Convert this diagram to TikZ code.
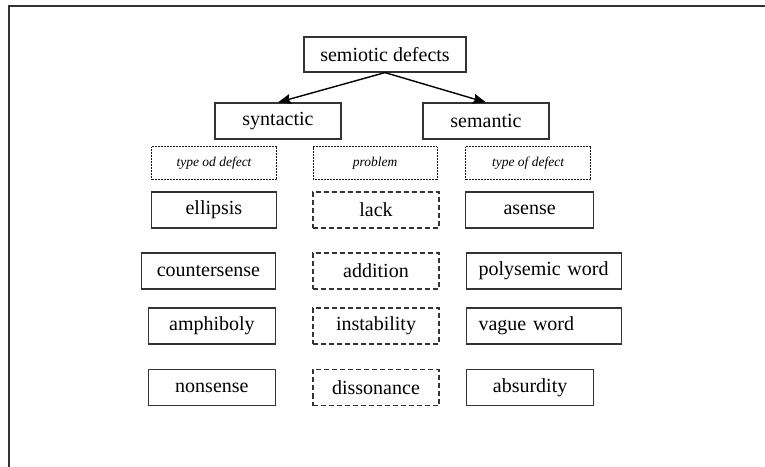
\documentclass[tikz,border=0pt]{standalone}
\usepackage{fontspec}
\setmainfont{Liberation Serif}
\newfontfamily\timesfont{Liberation Serif}
\usetikzlibrary{arrows.meta}
\tikzstyle{plain box}=[
        draw = black!80,
        line width = 1.2pt,
        minimum width = 126bp,
        minimum height = 36bp,
        inner sep = 0pt,
        font = \timesfont\fontsize{20bp}{24bp}\selectfont
    ]
\tikzstyle{dashed box}=[
    plain box,
    dash pattern = on 5bp off 3bp
]
\tikzstyle{dotted box}=[
    plain box,
    draw = black!90,
    line width = 1pt,
    minimum height = 33bp,
    dash pattern = on 1bp off 0.5bp,
    font = \timesfont\fontsize{13.5bp}{16bp}\selectfont\itshape
]
\tikzstyle{wide box}=[
    plain box,
    text width = 131bp,
    inner xsep = 12bp,
    align = left
]

\begin{document}
\begin{tikzpicture}[x=1bp, y=-1bp, thick, link/.style = {line width=1.4pt, -{Stealth[length=13bp, width=10bp, inset=2bp]}}]
        \useasboundingbox (0,0) rectangle (765,467);
        % frame
        \draw[line width=1.6pt, black!80] (9,467) -- (9,6) -- (765,6);

        % tree
        \node[plain box, minimum width=162bp, minimum height=35bp] (top) at (385,54.5) {semiotic defects};
        \node[plain box] (syn) at (278,121) {syntactic};
        \node[plain box] (sem) at (486,121) {semantic};

        \draw[link] (top.south) -- (syn.north);
        \draw[link] (top.south) -- (sem.north);

        % headings
        \node[dotted box, minimum width=125bp, anchor=east] (h1) at (277,163.5) {type od defect};
        \node[dotted box, minimum width=124bp] (h2) at (375,163.5) {problem};
        \node[dotted box, minimum width=125bp, anchor=west] (h3) at (465,163.5) {type of defect};

        % syntactic column
        \node[plain box, minimum width=125bp, anchor=east] (ellipsis) at (277,210) {ellipsis};
        \node[plain box, minimum width=134bp, anchor=east] (counter) at (276,271) {countersense};
        \node[plain box, minimum width=127bp, anchor=east] (amphi) at (276,326) {amphiboly};
        \node[plain box, minimum width=127bp, anchor=east] (nonsense) at (276,387.5) {nonsense};

        % problem column
        \node[dashed box] (lack) at (376,210) {lack};
        \node[dashed box] (addition) at (376,271) {addition};
        \node[dashed box] (instab) at (376,326) {instability};
        \node[dashed box] (dissonance) at (376,387.5) {dissonance};

        % semantic column
        \node[plain box, minimum width=128bp, anchor=west] (asense) at (465,210) {asense};
        \node[wide box, anchor=west] (polysemic) at (466,271) {polysemic word};
        \node[wide box, anchor=west] (vague) at (466,326) {vague word};
        \node[plain box, minimum width=127bp, anchor=west] (absurdity) at (466,387.5) {absurdity};

    \end{tikzpicture}
\end{document}
